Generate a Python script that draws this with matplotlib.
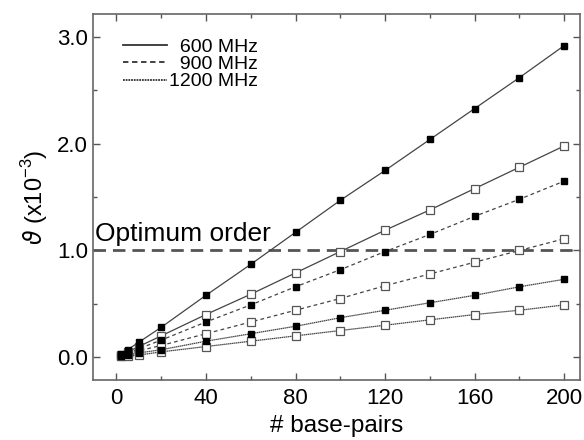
import matplotlib
matplotlib.use("Agg")
import matplotlib.pyplot as plt
from matplotlib.ticker import MultipleLocator, FormatStrFormatter

plt.rcParams['font.family'] = ['Liberation Sans', 'DejaVu Sans']
plt.rcParams['mathtext.fontset'] = 'custom'
plt.rcParams['mathtext.rm'] = 'Liberation Sans'

bp = [2, 5, 10, 20, 40, 60, 80, 100, 120, 140, 160, 180, 200]

# 600 MHz
s600_filled = [0.03, 0.07, 0.14, 0.28, 0.58, 0.87, 1.17, 1.47, 1.75, 2.04, 2.33, 2.62, 2.92]
s600_open = [0.02, 0.05, 0.10, 0.20, 0.40, 0.59, 0.79, 0.99, 1.19, 1.38, 1.58, 1.78, 1.98]
# 900 MHz
s900_filled = [0.02, 0.04, 0.08, 0.16, 0.33, 0.49, 0.66, 0.82, 0.99, 1.15, 1.32, 1.48, 1.65]
s900_open = [0.01, 0.03, 0.06, 0.11, 0.22, 0.33, 0.44, 0.55, 0.67, 0.78, 0.89, 1.00, 1.11]
# 1200 MHz
s1200_filled = [0.01, 0.02, 0.04, 0.07, 0.15, 0.22, 0.29, 0.37, 0.44, 0.51, 0.58, 0.66, 0.73]
s1200_open = [0.01, 0.01, 0.02, 0.05, 0.10, 0.15, 0.20, 0.25, 0.30, 0.35, 0.40, 0.44, 0.49]

optimum = 1.0
legend_labels = ['\u2007600 MHz', '\u2007900 MHz', '1200 MHz']

fig = plt.figure(figsize=(5.84, 4.4), dpi=100)
ax = fig.add_axes([0.159, 0.136, 0.834, 0.832])

styles = {'600': '-', '900': (0, (3, 2.5)), '1200': (0, (1.2, 0.4))}
series = [
    (s600_filled, '600', True), (s600_open, '600', False),
    (s900_filled, '900', True), (s900_open, '900', False),
    (s1200_filled, '1200', True), (s1200_open, '1200', False),
]
for vals, f, filled in series:
    if filled:
        ax.errorbar(bp, vals, yerr=0.025, color='#444444', lw=0.9,
                    linestyle=styles[f], marker='s', ms=4.5,
                    mfc='black', mec='black', ecolor='black',
                    elinewidth=1.3, capsize=0, zorder=3)
    else:
        ax.plot(bp, vals, color='#444444', lw=0.9, linestyle=styles[f],
                marker='s', ms=6, mfc='white', mec='#555555', mew=0.9,
                zorder=3)

ax.axhline(optimum, color='#555555', lw=2, linestyle=(0, (4.5, 2.5)), zorder=2)
ax.text(-9.5, 1.04, 'Optimum order', fontsize=19, ha='left', va='bottom')

# legend
h1, = ax.plot([], [], color='#333333', lw=1.3, linestyle='-')
h2, = ax.plot([], [], color='#333333', lw=1.3, linestyle=(0, (3, 2)))
h3, = ax.plot([], [], color='#333333', lw=1.3, linestyle=(0, (1, 0.5)))
ax.legend([h1, h2, h3], legend_labels, loc='upper left',
          frameon=False, fontsize=14, handlelength=2.3, handletextpad=0.1,
          labelspacing=-0.02, bbox_to_anchor=(0.045, 0.955), borderaxespad=0.0)

ax.set_xlim(-10.5, 207)
ax.set_ylim(-0.215, 3.215)
ax.xaxis.set_major_locator(MultipleLocator(40))
ax.xaxis.set_minor_locator(MultipleLocator(20))
ax.yaxis.set_major_locator(MultipleLocator(1.0))
ax.yaxis.set_minor_locator(MultipleLocator(0.5))
ax.yaxis.set_major_formatter(FormatStrFormatter('%.1f'))
ax.tick_params(which='both', direction='in', top=True, right=True,
               labelsize=16, color='#555555', width=1)
ax.tick_params(which='major', length=5)
ax.tick_params(which='minor', length=3)
ax.tick_params(axis='x', which='major', pad=6)
for sp in ax.spines.values():
    sp.set_color('#666666')
    sp.set_linewidth(1.2)

ax.set_xlabel('# base-pairs', fontsize=17.5, labelpad=4)
ax.set_ylabel(r'$\vartheta$ (x10$^{-3}$)', fontsize=17, labelpad=5)

fig.savefig('out.png', dpi=100)
